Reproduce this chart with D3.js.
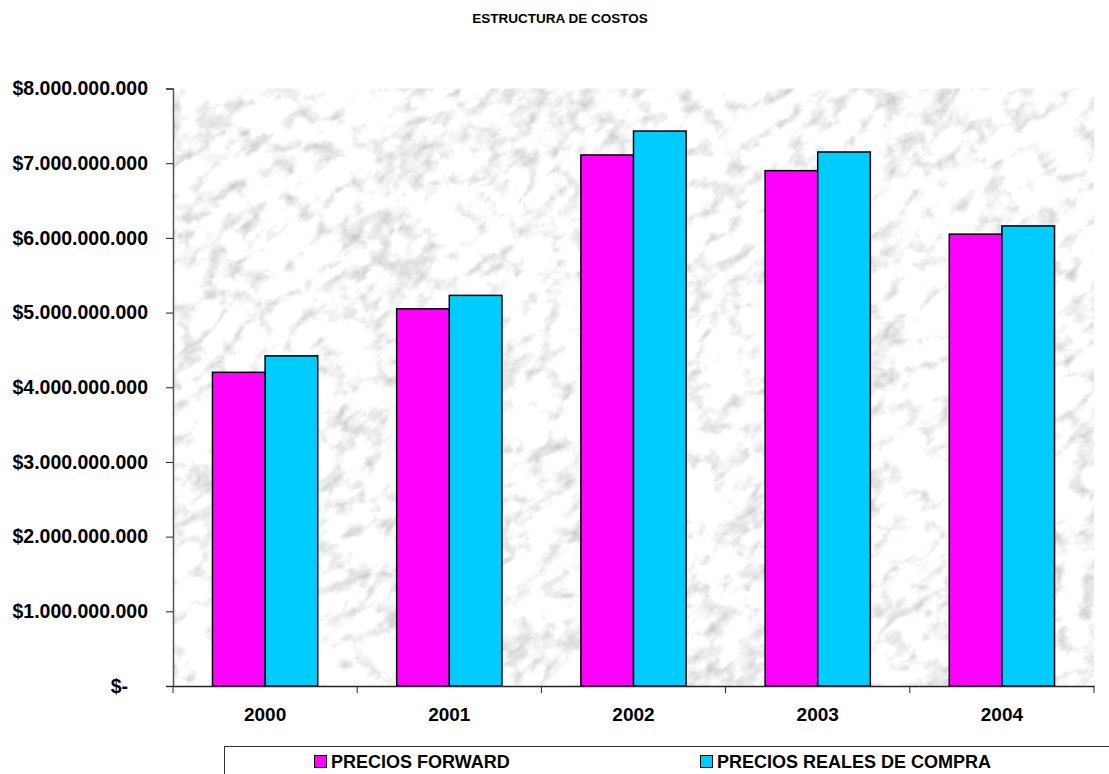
<!DOCTYPE html>
<html>
<head>
<meta charset="utf-8">
<script src="https://cdn.jsdelivr.net/npm/d3@7"></script>
<style>
  html, body { margin: 0; padding: 0; background: #fff; }
  svg { display: block; font-family: "Liberation Sans", Arial, sans-serif; }
</style>
</head>
<body>
<div id="chart"></div>
<script>
// ---- data ----
const years = ["2000", "2001", "2002", "2003", "2004"];
const seriesNames = ["PRECIOS FORWARD", "PRECIOS REALES DE COMPRA"];
const preciosForward = [4.20e9, 5.05e9, 7.11e9, 6.90e9, 6.05e9];
const preciosReales = [4.42e9, 5.23e9, 7.43e9, 7.15e9, 6.16e9];
const yTicks = [0, 1e9, 2e9, 3e9, 4e9, 5e9, 6e9, 7e9, 8e9];
const chartTitle = "ESTRUCTURA DE COSTOS";

const seriesColors = ["#ff00ff", "#00ccff"];

const width = 1109, height = 774;
const margin = { top: 88.5, right: 15, bottom: 88, left: 173 };

const svg = d3.select("#chart").append("svg")
  .attr("width", width)
  .attr("height", height);

const defs = svg.append("defs");

// marble look for the plot area
const marble = defs.append("filter")
  .attr("id", "marble")
  .attr("x", 0).attr("y", 0).attr("width", 1).attr("height", 1)
  .attr("filterUnits", "objectBoundingBox");
marble.append("feTurbulence")
  .attr("type", "turbulence")
  .attr("baseFrequency", "0.02 0.035")
  .attr("numOctaves", 5)
  .attr("seed", 11)
  .attr("result", "veins");
marble.append("feTurbulence")
  .attr("type", "fractalNoise")
  .attr("baseFrequency", "0.06")
  .attr("numOctaves", 3)
  .attr("seed", 3)
  .attr("result", "mottle");
marble.append("feComposite")
  .attr("in", "veins").attr("in2", "mottle")
  .attr("operator", "arithmetic")
  .attr("k1", 0).attr("k2", 1).attr("k3", 0.4).attr("k4", 0)
  .attr("result", "mix");
marble.append("feColorMatrix")
  .attr("in", "mix")
  .attr("type", "matrix")
  .attr("values",
    "1.25 0.3 0 0 0.36 " +
    "1.25 0.3 0 0 0.36 " +
    "1.25 0.3 0 0 0.37 " +
    "0 0 0 0 1");

const plotW = width - margin.left - margin.right;
const plotH = height - margin.top - margin.bottom;
const x0 = d3.scaleBand().domain(years).range([margin.left, margin.left + plotW]);
const x1 = d3.scaleBand().domain(seriesNames).range([0, x0.bandwidth()])
  .paddingInner(0).paddingOuter(0.75);
const y = d3.scaleLinear().domain([0, 8e9]).range([margin.top + plotH, margin.top]);

defs.append("clipPath").attr("id", "plotClip")
  .append("rect")
  .attr("x", margin.left).attr("y", margin.top)
  .attr("width", plotW).attr("height", plotH);

svg.append("g")
  .attr("clip-path", "url(#plotClip)")
  .append("rect")
  .attr("x", -400).attr("y", -400)
  .attr("width", 2000).attr("height", 1600)
  .attr("transform", `rotate(-35, ${margin.left + plotW / 2}, ${margin.top + plotH / 2})`)
  .attr("filter", "url(#marble)");

// bars
const rows = years.map((yr, i) => ({ year: yr, values: [preciosForward[i], preciosReales[i]] }));

svg.append("g")
  .selectAll("g")
  .data(rows)
  .join("g")
  .attr("transform", d => `translate(${x0(d.year)},0)`)
  .selectAll("rect")
  .data(d => d.values.map((v, j) => ({ name: seriesNames[j], value: v, idx: j })))
  .join("rect")
  .attr("x", d => x1(d.name))
  .attr("y", d => y(d.value))
  .attr("width", x1.bandwidth())
  .attr("height", d => y(0) - y(d.value))
  .attr("fill", d => seriesColors[d.idx])
  .attr("stroke", "#000")
  .attr("stroke-width", 1.5);

// y axis
const fmt = v => v === 0 ? "$-" : "$" + d3.format(",")(v).replace(/,/g, ".");
const yAxis = svg.append("g")
  .attr("transform", `translate(${margin.left},0)`)
  .call(d3.axisLeft(y).tickValues(yTicks).tickSize(7).tickPadding(18).tickFormat(fmt));
yAxis.select(".domain").attr("stroke", "#555").attr("stroke-width", 1.5);
yAxis.selectAll(".tick line").attr("stroke", "#222");
yAxis.selectAll(".tick text")
  .attr("font-size", 19.5).attr("font-weight", "bold").attr("fill", "#000")
  .attr("font-family", "'Liberation Sans', Arial, sans-serif")
  .attr("dx", d => d === 0 ? -20 : 0);

// x axis: labels at centers, ticks at category boundaries
const xAxis = svg.append("g")
  .attr("transform", `translate(0,${y(0)})`)
  .call(d3.axisBottom(x0).tickSize(0).tickPadding(22).tickSizeOuter(0));
xAxis.select(".domain").attr("stroke", "#222").attr("stroke-width", 1.5);
xAxis.selectAll(".tick text")
  .attr("font-size", 19).attr("font-weight", "bold").attr("fill", "#000")
  .attr("font-family", "'Liberation Sans', Arial, sans-serif");

const bounds = years.map(d => x0(d)).concat([x0.range()[1]]);
svg.append("g")
  .selectAll("line")
  .data(bounds)
  .join("line")
  .attr("x1", d => d).attr("x2", d => d)
  .attr("y1", y(0)).attr("y2", y(0) + 7)
  .attr("stroke", "#222");

// title
svg.append("text")
  .attr("x", 560).attr("y", 23)
  .attr("text-anchor", "middle")
  .attr("font-size", 13.5).attr("font-weight", "bold")
  .text(chartTitle);

// legend
const legend = svg.append("g");
legend.append("rect")
  .attr("x", 224.5).attr("y", 746.5)
  .attr("width", 1000).attr("height", 60)
  .attr("fill", "#fff")
  .attr("stroke", "#333").attr("stroke-width", 1);

const legendX = [314, 700];
const items = legend.selectAll("g.item")
  .data(seriesNames)
  .join("g")
  .attr("class", "item")
  .attr("transform", (d, i) => `translate(${legendX[i]},755)`);
items.append("rect")
  .attr("x", 0.5).attr("y", 0.5)
  .attr("width", 12).attr("height", 12)
  .attr("fill", (d, i) => seriesColors[i])
  .attr("stroke", "#000").attr("stroke-width", 1);
items.append("text")
  .attr("x", 17).attr("y", 13)
  .attr("font-size", 18).attr("font-weight", "bold")
  .text(d => d);
</script>
</body>
</html>
